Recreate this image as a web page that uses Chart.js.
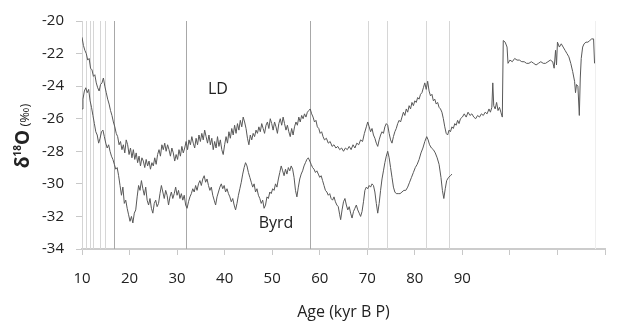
<!DOCTYPE html>
<html>
<head>
<meta charset="utf-8">
<script src="https://cdn.jsdelivr.net/npm/chart.js@4.4.1/dist/chart.umd.min.js"></script>
<style>
  html, body { margin: 0; padding: 0; background: #fff; }
  canvas { display: block; }
</style>
</head>
<body>
<canvas id="myChart" width="620" height="327"></canvas>
<script>
// LD record (age kyr BP, d18O permil)
const ldAge = [10.0,10.3,10.6,10.9,11.2,11.5,11.8,12.1,12.4,12.7,13.0,13.3,13.6,13.9,14.2,14.5,14.8,15.1,15.4,15.7,16.0,16.3,16.6,16.9,17.2,17.5,17.8,18.1,18.4,18.7,19.0,19.3,19.6,19.9,20.2,20.5,20.8,21.1,21.4,21.7,22.0,22.3,22.6,22.9,23.2,23.5,23.8,24.1,24.4,24.7,25.0,25.3,25.6,25.9,26.2,26.5,26.8,27.1,27.4,27.7,28.0,28.3,28.6,28.9,29.2,29.5,29.8,30.1,30.4,30.7,31.0,31.3,31.6,31.9,32.2,32.5,32.8,33.1,33.4,33.7,34.0,34.3,34.6,34.9,35.2,35.5,35.8,36.1,36.4,36.7,37.0,37.3,37.6,37.9,38.2,38.5,38.8,39.1,39.4,39.7,40.0,40.3,40.6,40.9,41.2,41.5,41.8,42.1,42.4,42.7,43.0,43.3,43.6,43.9,44.2,44.5,44.8,45.1,45.4,45.7,46.0,46.3,46.6,46.9,47.2,47.5,47.8,48.1,48.4,48.7,49.0,49.3,49.6,49.9,50.2,50.5,50.8,51.1,51.4,51.7,52.0,52.3,52.6,52.9,53.2,53.5,53.8,54.1,54.4,54.7,55.0,55.3,55.6,55.9,56.2,56.5,56.8,57.1,57.4,57.7,58.0,58.3,58.6,58.9,59.2,59.5,59.8,60.1,60.4,60.7,61.0,61.4,61.8,62.2,62.6,63.0,63.4,63.8,64.2,64.6,65.0,65.4,65.8,66.2,66.6,67.0,67.4,67.8,68.2,68.6,69.0,69.4,69.8,70.1,70.4,70.7,71.0,71.3,71.6,71.9,72.2,72.5,72.8,73.1,73.4,73.7,74.0,74.3,74.6,74.9,75.2,75.5,75.8,76.1,76.4,76.7,77.0,77.3,77.6,77.9,78.2,78.5,78.8,79.1,79.4,79.7,80.0,80.3,80.6,80.9,81.2,81.5,81.8,82.1,82.4,82.7,83.0,83.3,83.6,83.9,84.2,84.5,84.8,85.1,85.4,85.7,86.0,86.3,86.6,86.9,87.2,87.5,87.8,88.1,88.4,88.7,89.0,89.3,89.6,90.0,90.4,90.8,91.2,91.6,92.0,92.4,92.8,93.2,93.6,94.0,94.4,94.8,95.2,95.6,95.9,96.2,96.4,96.6,96.9,97.2,97.5,97.8,98.1,98.4,98.6,99.0,99.4,99.6,100.0,100.5,101.0,101.5,102.0,102.5,103.0,103.5,104.0,104.5,105.0,105.5,106.0,106.5,107.0,107.5,108.0,108.5,109.0,109.3,109.6,109.8,110.0,110.4,110.8,111.2,111.6,112.0,112.4,112.8,113.2,113.6,113.8,114.0,114.3,114.6,114.8,115.0,115.3,115.6,116.0,116.4,116.8,117.2,117.6,117.8]
const ldD18O = [-21.0,-21.5,-21.8,-22.0,-22.4,-22.3,-22.9,-23.0,-23.4,-23.3,-23.8,-24.1,-24.3,-23.9,-23.8,-23.5,-24.0,-24.4,-24.8,-25.1,-25.5,-25.8,-26.2,-26.5,-26.9,-27.1,-27.6,-27.4,-27.9,-27.6,-28.1,-27.3,-27.6,-28.2,-27.8,-28.4,-27.9,-28.5,-28.1,-28.7,-28.3,-28.9,-28.4,-28.6,-29.0,-28.5,-28.9,-28.6,-29.1,-28.7,-28.9,-28.4,-28.8,-28.2,-27.9,-28.3,-27.6,-27.9,-27.5,-28.0,-27.6,-27.9,-28.3,-27.8,-28.1,-28.6,-28.2,-28.5,-27.9,-28.3,-27.7,-28.1,-27.8,-27.4,-27.9,-27.3,-27.6,-27.1,-27.5,-27.8,-27.2,-27.6,-27.0,-27.4,-26.9,-27.3,-26.7,-27.1,-27.5,-27.0,-27.6,-27.2,-27.9,-27.4,-27.8,-27.1,-27.7,-27.3,-27.9,-28.2,-27.6,-27.1,-27.5,-26.8,-27.2,-26.6,-27.0,-26.4,-26.9,-26.3,-26.7,-26.1,-26.5,-25.9,-26.2,-26.6,-27.2,-27.6,-27.0,-27.3,-26.9,-27.1,-26.7,-26.9,-26.5,-26.8,-26.3,-26.6,-26.9,-26.4,-26.2,-26.6,-26.0,-26.3,-26.7,-26.2,-26.5,-26.9,-26.3,-26.0,-26.4,-25.9,-26.3,-26.7,-26.4,-26.8,-27.1,-26.6,-27.0,-26.5,-26.2,-26.4,-25.9,-26.2,-25.8,-26.0,-25.7,-25.9,-25.6,-25.5,-25.4,-25.7,-25.9,-26.2,-26.1,-26.5,-26.6,-26.9,-26.8,-27.1,-27.3,-27.2,-27.5,-27.4,-27.7,-27.6,-27.8,-27.7,-27.9,-27.8,-28.0,-27.8,-27.9,-27.7,-27.9,-27.6,-27.8,-27.5,-27.6,-27.3,-27.4,-26.9,-26.5,-26.2,-26.5,-26.8,-26.6,-27.0,-27.2,-27.5,-27.7,-27.3,-27.0,-26.8,-26.9,-26.5,-26.3,-26.4,-26.9,-27.3,-27.5,-27.1,-26.8,-26.6,-26.3,-26.1,-26.2,-25.9,-25.6,-25.8,-25.4,-25.6,-25.2,-25.4,-25.0,-25.2,-24.9,-25.0,-24.7,-24.8,-24.5,-24.4,-24.1,-23.8,-24.2,-23.7,-24.3,-24.6,-24.5,-24.9,-24.8,-25.1,-25.0,-25.3,-25.4,-25.6,-26.0,-26.5,-26.9,-27.0,-26.7,-26.8,-26.5,-26.6,-26.3,-26.4,-26.1,-26.3,-26.0,-25.9,-25.7,-25.9,-25.6,-25.8,-25.7,-25.9,-26.0,-25.8,-25.9,-25.7,-25.8,-25.6,-25.7,-25.4,-25.6,-25.3,-23.8,-25.2,-25.4,-25.0,-25.5,-25.3,-25.6,-25.9,-21.2,-21.3,-21.6,-22.6,-22.4,-22.5,-22.3,-22.4,-22.4,-22.5,-22.5,-22.6,-22.6,-22.5,-22.6,-22.7,-22.6,-22.5,-22.6,-22.6,-22.5,-22.4,-22.5,-22.9,-21.8,-22.7,-21.3,-21.6,-21.4,-21.6,-21.8,-22.0,-22.2,-22.6,-23.1,-23.7,-24.4,-23.9,-24.0,-25.8,-23.5,-22.3,-21.6,-21.4,-21.3,-21.3,-21.2,-21.1,-21.1,-22.6]

// Byrd record
const byrdAge = [10.0,10.2,10.5,10.8,11.1,11.4,11.7,12.0,12.3,12.6,12.9,13.2,13.5,13.8,14.1,14.4,14.7,15.0,15.3,15.6,15.9,16.2,16.5,16.8,17.1,17.4,17.7,18.0,18.3,18.6,18.9,19.2,19.5,19.8,20.1,20.4,20.7,21.0,21.3,21.6,21.9,22.2,22.5,22.8,23.1,23.4,23.7,24.0,24.3,24.6,24.9,25.2,25.5,25.8,26.1,26.4,26.7,27.0,27.3,27.6,27.9,28.2,28.5,28.8,29.1,29.4,29.7,30.0,30.3,30.6,30.9,31.2,31.5,31.8,32.1,32.4,32.7,33.0,33.3,33.6,33.9,34.2,34.5,34.8,35.1,35.4,35.7,36.0,36.3,36.6,36.9,37.2,37.5,37.8,38.1,38.4,38.7,39.0,39.3,39.6,39.9,40.2,40.5,40.8,41.1,41.4,41.7,42.0,42.3,42.6,42.9,43.2,43.5,43.8,44.1,44.4,44.7,45.0,45.3,45.6,45.9,46.2,46.5,46.8,47.1,47.4,47.7,48.0,48.3,48.6,48.9,49.2,49.5,49.8,50.1,50.4,50.7,51.0,51.3,51.6,51.9,52.2,52.5,52.8,53.1,53.4,53.7,54.0,54.3,54.6,54.9,55.2,55.5,55.8,56.1,56.4,56.7,57.0,57.3,57.6,57.9,58.2,58.5,58.8,59.1,59.4,59.7,60.0,60.3,60.6,60.9,61.2,61.5,61.8,62.1,62.4,62.7,63.0,63.3,63.6,63.9,64.2,64.4,64.7,65.0,65.3,65.6,65.9,66.2,66.5,66.8,67.1,67.4,67.7,68.0,68.3,68.6,68.9,69.2,69.5,69.8,70.1,70.4,70.7,71.0,71.3,71.6,71.9,72.2,72.5,72.8,73.1,73.4,73.7,74.0,74.3,74.6,74.9,75.2,75.5,75.8,76.1,76.5,76.9,77.3,77.7,78.1,78.5,78.9,79.3,79.7,80.1,80.5,80.9,81.3,81.7,82.1,82.5,82.8,83.1,83.5,83.9,84.3,84.7,85.1,85.5,85.8,86.1,86.4,86.7,87.1,87.5,87.8]
const byrdD18O = [-25.4,-24.8,-24.3,-24.1,-24.4,-24.2,-24.9,-25.3,-25.8,-26.3,-26.8,-27.0,-27.5,-27.2,-26.8,-26.7,-27.1,-27.5,-27.8,-27.6,-28.0,-28.3,-28.5,-28.8,-29.1,-29.0,-29.5,-30.1,-30.7,-30.2,-31.2,-31.0,-31.5,-31.9,-32.3,-32.0,-32.4,-31.8,-31.6,-30.8,-30.1,-30.4,-29.8,-30.3,-30.7,-30.2,-31.0,-31.3,-30.9,-31.5,-31.8,-31.2,-31.0,-31.4,-31.2,-30.6,-30.1,-30.5,-30.9,-30.4,-30.7,-31.3,-30.8,-30.5,-30.9,-30.6,-30.2,-30.7,-30.4,-30.9,-30.6,-31.0,-30.7,-31.3,-31.5,-31.1,-30.8,-30.6,-30.3,-30.5,-30.1,-30.4,-30.0,-29.8,-30.1,-29.7,-29.5,-29.9,-29.7,-30.1,-30.4,-30.2,-30.7,-31.0,-31.3,-30.8,-30.5,-30.2,-30.0,-30.3,-30.1,-30.5,-30.3,-30.6,-30.8,-31.1,-30.9,-31.3,-31.6,-31.2,-30.7,-30.3,-29.9,-29.4,-29.0,-28.7,-28.9,-29.3,-29.6,-29.9,-30.2,-30.0,-30.5,-30.3,-30.7,-30.9,-31.2,-31.0,-31.5,-31.3,-30.8,-30.9,-30.5,-30.6,-30.3,-30.4,-30.0,-30.2,-29.7,-29.3,-28.9,-29.2,-29.5,-29.1,-29.4,-29.0,-29.2,-28.9,-29.1,-29.6,-30.4,-30.8,-30.2,-29.7,-29.4,-29.2,-28.9,-28.7,-28.5,-28.4,-28.6,-28.8,-29.0,-29.1,-29.3,-29.2,-29.4,-29.6,-29.5,-29.8,-30.1,-30.4,-30.5,-30.7,-30.6,-30.9,-31.0,-30.8,-31.1,-31.3,-31.4,-31.9,-32.2,-31.6,-31.1,-30.9,-31.3,-31.6,-31.4,-31.8,-32.1,-31.7,-31.5,-31.3,-31.6,-31.8,-32.0,-31.7,-31.1,-30.4,-30.2,-30.3,-30.1,-30.2,-30.0,-30.1,-30.5,-31.2,-31.8,-31.2,-30.4,-29.7,-29.2,-28.7,-28.3,-28.0,-28.4,-29.0,-29.6,-30.2,-30.5,-30.6,-30.6,-30.6,-30.5,-30.4,-30.4,-30.2,-29.9,-29.6,-29.3,-29.0,-28.8,-28.5,-28.1,-27.8,-27.4,-27.1,-27.3,-27.6,-27.8,-27.9,-28.1,-28.4,-28.8,-29.6,-30.4,-30.9,-30.3,-29.8,-29.6,-29.5,-29.4]

// event markers (kyr BP)
const markerAges = [10.8, 11.6, 12.4, 13.7, 14.9, 16.7, 31.8, 58.0, 70.2, 74.1, 82.4, 87.1, 118.0]
const markerStrong = [16.7, 31.8, 58.0]
const markerFaint = [118.0]

const labelText = ["LD", "Byrd"]
const labelAge = [38.6, 50.8]
const labelD18O = [-24.2, -32.4]

const toPoints = (xs, ys) => xs.map((x, i) => ({ x: x, y: ys[i] }))

const markers = {
  id: "markers",
  beforeDatasetsDraw(chart) {
    const { ctx, scales } = chart
    const top = scales.y.getPixelForValue(-20)
    const bottom = scales.y.getPixelForValue(-34)
    ctx.save()
    ctx.lineWidth = 1
    markerAges.forEach(a => {
      const x = Math.round(scales.x.getPixelForValue(a)) + 0.5
      ctx.strokeStyle = markerStrong.includes(a) ? "#a8a8a8" : markerFaint.includes(a) ? "#efefef" : "#d6d6d6"
      ctx.beginPath()
      ctx.moveTo(x, top)
      ctx.lineTo(x, bottom)
      ctx.stroke()
    })
    ctx.restore()
  },
  afterDatasetsDraw(chart) {
    const { ctx, scales } = chart
    ctx.save()
    ctx.fillStyle = "#222"
    ctx.font = "16px 'Open Sans'"
    ctx.textAlign = "center"
    ctx.textBaseline = "middle"
    labelText.forEach((t, i) => {
      ctx.fillText(t, scales.x.getPixelForValue(labelAge[i]), scales.y.getPixelForValue(labelD18O[i]))
    })
    // y axis title: δ18O (‰)
    ctx.translate(22, 136)
    ctx.rotate(-Math.PI / 2)
    ctx.textAlign = "left"
    ctx.textBaseline = "alphabetic"
    const parts = [
      ["δ", "bold 19px 'Open Sans'", 0],
      ["18", "bold 10px 'Open Sans'", -8],
      ["O", "bold 19px 'Open Sans'", 0],
      [" (‰)", "13px 'Open Sans'", 0],
    ]
    let w = 0
    parts.forEach(p => { ctx.font = p[1]; w += ctx.measureText(p[0]).width })
    let x = -w / 2
    parts.forEach(p => {
      ctx.font = p[1]
      ctx.fillText(p[0], x, 7 + p[2])
      x += ctx.measureText(p[0]).width
    })
    ctx.restore()
  },
}

const config = {
  type: "line",
  data: {
    datasets: [
      {
        label: "LD",
        data: toPoints(ldAge, ldD18O),
        borderColor: "#585858",
        borderWidth: 1,
        pointRadius: 0,
      },
      {
        label: "Byrd",
        data: toPoints(byrdAge, byrdD18O),
        borderColor: "#585858",
        borderWidth: 1,
        pointRadius: 0,
      },
    ],
  },
  options: {
    responsive: false,
    animation: false,
    devicePixelRatio: 1,
    layout: { padding: { top: 17, right: 0, left: 0, bottom: 0 } },
    plugins: { legend: { display: false }, tooltip: { enabled: false } },
    scales: {
      x: {
        type: "linear",
        min: 10,
        max: 120,
        afterFit: s => { s.height = 78 },
        ticks: {
          stepSize: 10,
          padding: 15,
          color: "#222",
          font: { family: "Open Sans", size: 15 },
          callback: v => (v <= 90 ? v : ""),
        },
        grid: { drawOnChartArea: false, tickLength: 6, color: "#c8c8c8" },
        border: { color: "#cccccc", width: 2 },
        title: {
          display: true,
          text: "Age (kyr B P)",
          color: "#222",
          font: { family: "Open Sans", size: 16 },
          padding: { top: 0, bottom: 5 },
        },
      },
      y: {
        min: -34,
        max: -20,
        afterFit: s => { s.width = 82 },
        ticks: {
          stepSize: 2,
          padding: 12,
          color: "#222",
          font: { family: "Open Sans", size: 15 },
        },
        grid: { drawOnChartArea: false, tickLength: 6, color: "#c8c8c8" },
        border: { color: "#d4d4d4", width: 1 },
      },
    },
  },
  plugins: [markers],
}

const myChart = new Chart(document.getElementById("myChart"), config)
</script>
</body>
</html>
